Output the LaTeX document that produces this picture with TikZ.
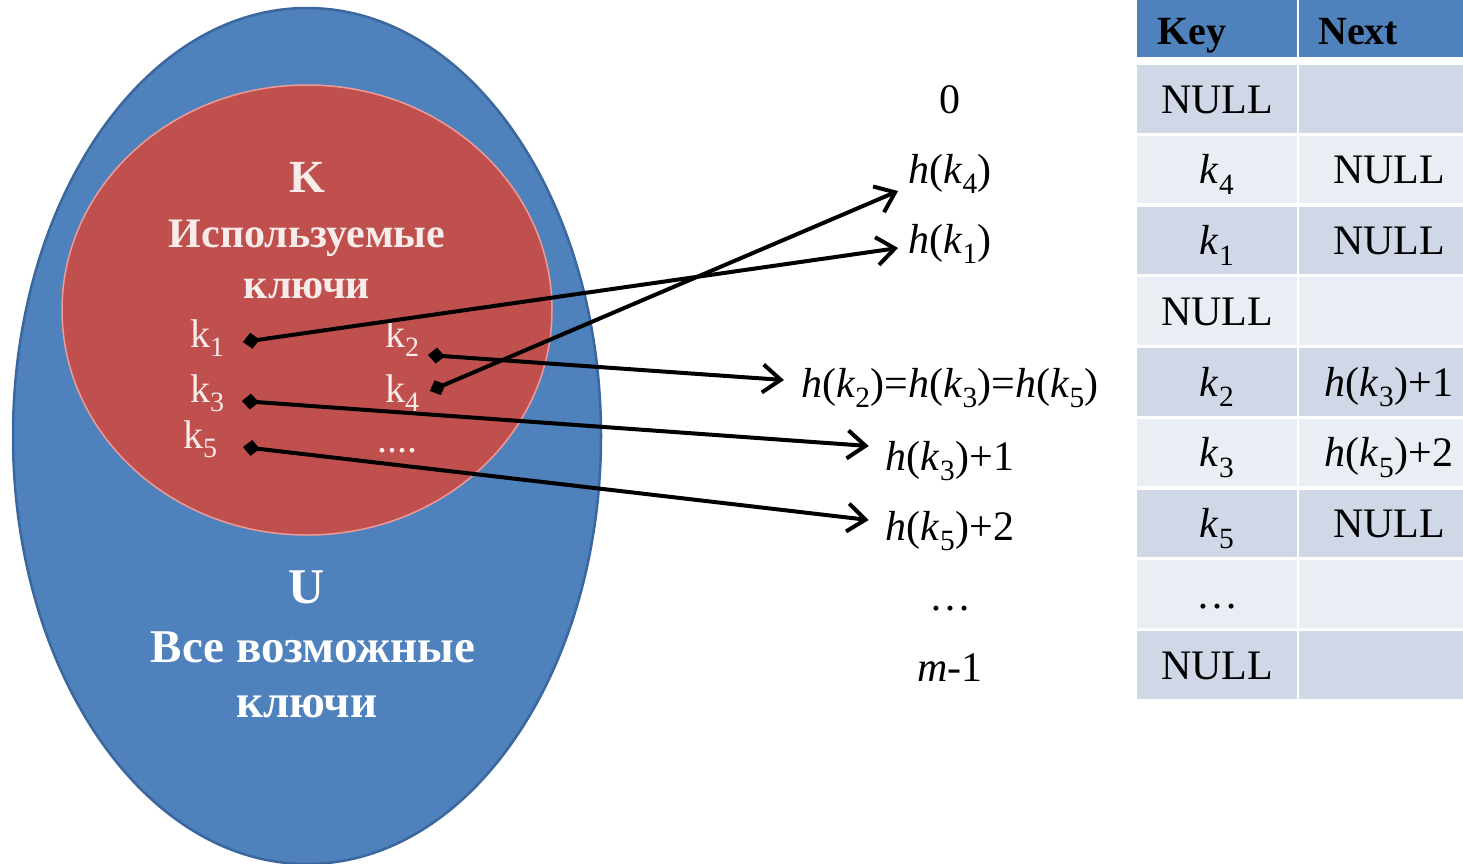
\documentclass[tikz,border=0pt]{standalone}
\usepackage{fontspec}
\setmainfont{Liberation Serif}
\usetikzlibrary{arrows.meta,positioning}

\newcommand{\kk}[1]{\textit{k}\textsubscript{#1}}
\newcommand{\hof}[1]{\textit{h}(\kk{#1})}

\begin{document}
\begin{tikzpicture}[x=1pt, y=-1pt,
    keytext/.style={font=\fontsize{40}{44}\selectfont, text=textColourK, inner sep=0pt, anchor=base west},
    titletext/.style={font=\bfseries\fontsize{42}{48}\selectfont, inner sep=0pt, anchor=base},
    slottext/.style={font=\fontsize{42}{48}\selectfont, inner sep=0pt, anchor=base},
    headtext/.style={font=\bfseries\fontsize{40}{44}\selectfont, inner sep=0pt, anchor=base west},
    hasharrow/.style={line width=4pt, {Diamond[length=17pt,width=16pt]}-{Straight Barb[length=18pt,width=28pt]}}]
    \definecolor{fillColourU}{HTML}{4F81BD}
    \definecolor{borderColourU}{HTML}{3A679E}
    \definecolor{fillColourK}{HTML}{C0504D}
    \definecolor{borderColourK}{HTML}{EE9A97}
    \definecolor{textColourK}{HTML}{F8ECEA}
    \definecolor{rowDark}{HTML}{D0D8E8}
    \definecolor{rowLight}{HTML}{E9EDF4}

    \def\rowPitch{70.75}

    \useasboundingbox (0,0) rectangle (1463,863);

    % Draw universe U
    \draw[fill=fillColourU, draw=borderColourU, line width=2.5pt] (307,436) ellipse [x radius=294, y radius=428];

    % Draw used keys K
    \draw[fill=fillColourK, draw=borderColourK, line width=1.5pt] (307,310) ellipse [x radius=245, y radius=225];

    % Titles of the sets
    \node[titletext, text=textColourK, font=\bfseries\fontsize{46}{50}\selectfont] (nameK) at (307,192) {K};
    \node[titletext, text=textColourK] (usedK) at (307,247) {Используемые};
    \node[titletext, text=textColourK] (keysK) at (307,298) {ключи};
    \node[titletext, text=white, font=\bfseries\fontsize{50}{54}\selectfont] (nameU) at (307,603) {U};
    \node[titletext, text=white, font=\bfseries\fontsize{47}{52}\selectfont] (allU) at (313,662) {Все возможные};
    \node[titletext, text=white, font=\bfseries\fontsize{47}{52}\selectfont] (keysU) at (307,717) {ключи};

    % Keys inside K
    \node[keytext] (k1) at (190,347) {k\textsubscript{1}};
    \node[keytext] (k2) at (385,347) {k\textsubscript{2}};
    \node[keytext] (k3) at (190,402) {k\textsubscript{3}};
    \node[keytext] (k4) at (385,402) {k\textsubscript{4}};
    \node[keytext] (k5) at (183,448) {k\textsubscript{5}};
    \node[keytext] (kdots) at (377,452) {....};

    % Slots of the hash table
    \node[slottext] (slot0) at (950,113) {0};
    \node[slottext] (slot4) at (950,183) {\hof{4}};
    \node[slottext] (slot1) at (950,253) {\hof{1}};
    \node[slottext] (slot2) at (950,397) {\hof{2}=\hof{3}=\hof{5}};
    \node[slottext] (slot3) at (950,470) {\hof{3}+1};
    \node[slottext] (slot5) at (950,540) {\hof{5}+2};
    \node[slottext] (slotDots) at (950,610) {…};
    \node[slottext] (slotLast) at (950,681) {\textit{m}-1};

    % Hash arrows
    \draw[hasharrow] ([xshift=18pt,yshift=5pt]k1.base east) -- ([xshift=-10pt,yshift=5pt]slot1.base west);
    \draw[hasharrow] ([xshift=10pt,yshift=11pt]k4.base east) -- ([xshift=-10pt,yshift=-8pt]slot4.base west);
    \draw[hasharrow] ([xshift=8pt,yshift=-8pt]k2.base east) -- ([xshift=-17pt,yshift=17pt]slot2.base west);
    \draw[hasharrow] ([xshift=17pt,yshift=1pt]k3.base east) -- ([xshift=-17pt,yshift=24pt]slot3.base west);
    \draw[hasharrow] ([xshift=25pt,yshift=1pt]k5.base east) -- ([xshift=-17pt,yshift=20pt]slot5.base west);

    % Table header
    \fill[fillColourU] (1137,0) rectangle (1297,57);
    \fill[fillColourU] (1299,0) rectangle (1463,57);
    \node[headtext] (headKey) at (1157,44) {Key};
    \node[headtext] (headNext) at (1318,44) {Next};

    % Table rows
    \foreach \i/\rowColour/\keyText/\nextText in {
        1/rowDark/NULL/{},
        2/rowLight/{\kk{4}}/NULL,
        3/rowDark/{\kk{1}}/NULL,
        4/rowLight/NULL/{},
        5/rowDark/{\kk{2}}/{\hof{3}+1},
        6/rowLight/{\kk{3}}/{\hof{5}+2},
        7/rowDark/{\kk{5}}/NULL,
        8/rowLight/{…}/{},
        9/rowDark/NULL/{}}
    {
        \pgfmathsetmacro\rowTop{65+\rowPitch*(\i-1)}
        \fill[\rowColour] (1137,\rowTop) rectangle (1297,\rowTop+67.5);
        \fill[\rowColour] (1299,\rowTop) rectangle (1463,\rowTop+67.5);
        \node[slottext] (key\i) at (1217,\rowTop+48) {\keyText};
        \node[slottext] (next\i) at (1389,\rowTop+48) {\nextText};
    }

\end{tikzpicture}
\end{document}
